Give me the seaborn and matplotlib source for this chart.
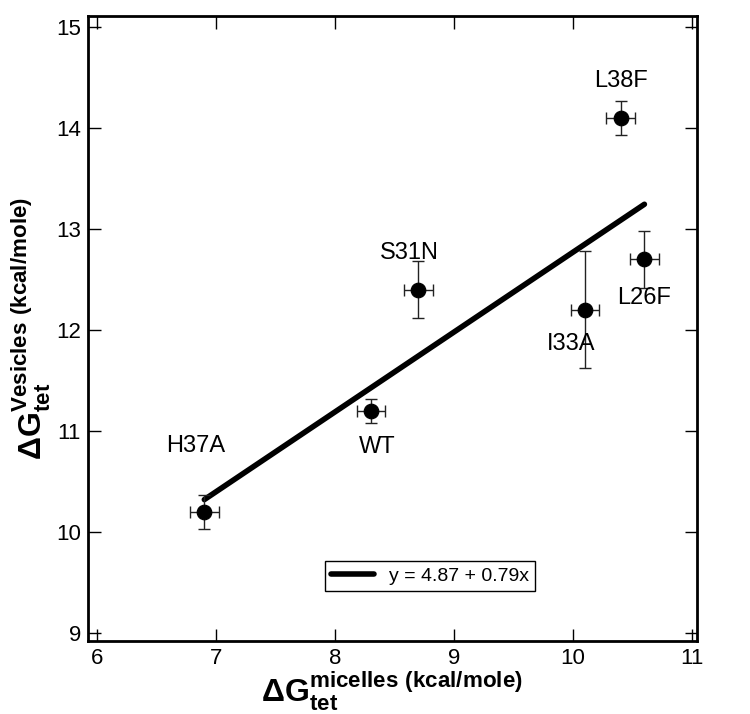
import numpy as np
import pandas as pd
import matplotlib
matplotlib.use("Agg")
import matplotlib.pyplot as plt
import seaborn as sns

# data
mutants = ["WT", "H37A", "S31N", "I33A", "L38F", "L26F"]
dg_micelles = [8.3, 6.9, 8.7, 10.1, 10.4, 10.6]
dg_vesicles = [11.2, 10.2, 12.4, 12.2, 14.1, 12.7]
err_micelles = [0.12, 0.12, 0.12, 0.12, 0.12, 0.12]
err_vesicles = [0.12, 0.17, 0.28, 0.58, 0.17, 0.28]

# label offsets (x, y) from each point
label_dx = [0.05, -0.07, -0.08, -0.12, 0.0, 0.0]
label_dy = [-0.36, 0.65, 0.36, -0.34, 0.36, -0.38]

fit_intercept = 4.87
fit_slope = 0.79

df = pd.DataFrame({"mutant": mutants, "x": dg_micelles, "y": dg_vesicles,
                   "xerr": err_micelles, "yerr": err_vesicles})

sns.set_style("ticks")
plt.rcParams['font.family'] = ['Liberation Sans', 'DejaVu Sans']
plt.rcParams['mathtext.fontset'] = 'custom'
plt.rcParams['mathtext.rm'] = 'Liberation Sans'
plt.rcParams['mathtext.bf'] = 'Liberation Sans:bold'
plt.rcParams['text.color'] = 'black'
plt.rcParams['axes.labelcolor'] = 'black'
plt.rcParams['xtick.color'] = 'black'
plt.rcParams['ytick.color'] = 'black'
plt.rcParams['axes.edgecolor'] = 'black'

fig = plt.figure(figsize=(7.5, 7.14), dpi=100)
ax = fig.add_axes([0.117, 0.102, 0.812, 0.876])

# regression line over the data range
fit_x = np.array([df.x.min(), df.x.max()])
fit_df = pd.DataFrame({"x": fit_x, "y": fit_intercept + fit_slope * fit_x})
sns.lineplot(data=fit_df, x="x", y="y", ax=ax, color="black", linewidth=4,
             label=f"y = {fit_intercept} + {fit_slope}x", zorder=2)

ax.errorbar(df.x, df.y, xerr=df.xerr, yerr=df.yerr, fmt="none",
            ecolor="#222222", elinewidth=1, capsize=4.5, capthick=1, zorder=3)
sns.scatterplot(data=df, x="x", y="y", ax=ax, color="black", s=110,
                edgecolor="black", zorder=4, legend=False)

for i, row in df.iterrows():
    ax.text(row.x + label_dx[i], row.y + label_dy[i], row.mutant,
            ha="center", va="center", fontsize=17)

ax.set_xlim(5.92, 11.04)
ax.set_ylim(8.92, 15.11)
ax.set_xticks(range(6, 12))
ax.set_yticks(range(9, 16))
ax.tick_params(direction="in", length=9, width=1, top=True, right=True,
               labelsize=16, pad=5)
for s in ax.spines.values():
    s.set_linewidth(2)

ax.set_xlabel(r"$\mathbf{\Delta G}_{\mathbf{tet}}^{\mathbf{micelles\ (kcal/mole)}}$",
              fontsize=23, labelpad=0)
ax.set_ylabel(r"$\mathbf{\Delta G}_{\mathbf{tet}}^{\mathbf{Vesicles\ (kcal/mole)}}$",
              fontsize=23, labelpad=2)

leg = ax.legend(loc="center", bbox_to_anchor=(0.562, 0.104), fontsize=14,
                frameon=True, fancybox=False, handlelength=2.2,
                borderpad=0.3, framealpha=1)
leg.get_frame().set_edgecolor("black")
leg.get_frame().set_linewidth(1)

fig.savefig("out.png", dpi=100)
